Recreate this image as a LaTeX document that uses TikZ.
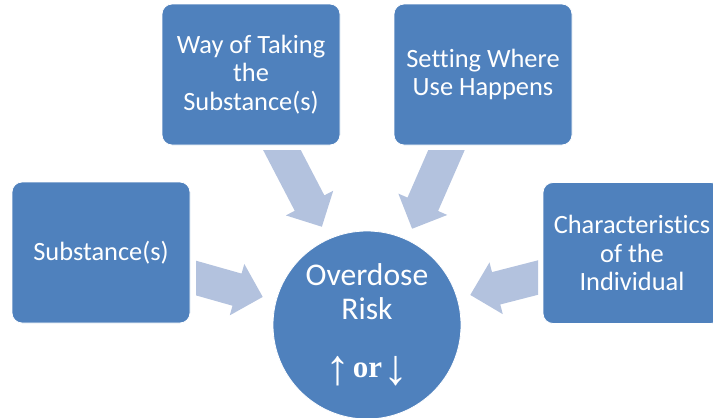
\documentclass[tikz,border=0pt]{standalone}
\usepackage{fontspec}
\setmainfont{Carlito}[Ligatures=CommonOff]
\newfontfamily\symserif{Liberation Serif}
\usetikzlibrary{shapes.arrows}
\definecolor{boxblue}{HTML}{4F81BD}
\definecolor{arrowblue}{HTML}{B3C2DE}
\tikzset{
  factorbox/.style={rectangle, rounded corners=10pt, fill=boxblue, draw=white, line width=0.8pt,
    minimum width=178pt, minimum height=141pt, inner sep=0pt, text=white, align=center,
    font=\fontsize{26.4}{28.8}\selectfont},
  riskcircle/.style={circle, fill=boxblue, draw=white, line width=0.8pt, minimum size=188pt, inner sep=0pt},
  risktext/.style={text=white, inner sep=0pt, font=\fontsize{31.6}{34}\selectfont},
  blockarrow/.style={single arrow, fill=arrowblue, draw=none, inner xsep=0pt, inner ysep=16.5pt,
    minimum width=53pt, single arrow head extend=10pt, minimum height=110pt, anchor=tip}
}
\begin{document}
\begin{tikzpicture}[x=1pt,y=-1pt]
\useasboundingbox (0,0) rectangle (713,418);
\clip (0,0) rectangle (713,418);
% arrows, cut parallel to the box edges they leave
\begin{scope}
\clip (196,150) rectangle (538,418);
\node[blockarrow, rotate=-15.8] (a1) at (263,297) {};
\node[blockarrow, rotate=194.4] (a4) at (470,295) {};
\node[blockarrow, rotate=-62.5] (a2) at (322,227) {};
\node[blockarrow, rotate=246.4] (a3) at (412,229) {};
\end{scope}
% boxes
\node[factorbox] (way) at (251,74.5) {Way of Taking\\the\\Substance(s)};
\node[factorbox] (setting) at (483,74.5) {Setting Where\\Use Happens};
\node[factorbox] (subst) at (101,252.5) {Substance(s)};
\node[factorbox] (indiv) at (632,253) {Characteristics\\of the\\Individual};
% circle
\node[riskcircle] (risk) at (367,325) {};
\node[risktext, anchor=base] (t1) at (367,285) {Overdose};
\node[risktext, anchor=base] (t2) at (367,319) {Risk};
\node[text=white, inner sep=0pt, anchor=base, font=\symserif\fontsize{31}{36}\selectfont] (t3) at (367,377)
  {\raisebox{-7pt}{\fontsize{50}{50}\selectfont ↑}\hspace{2pt}\textbf{or}\hspace{1pt}\raisebox{-7pt}{\fontsize{50}{50}\selectfont ↓}};
\end{tikzpicture}
\end{document}
